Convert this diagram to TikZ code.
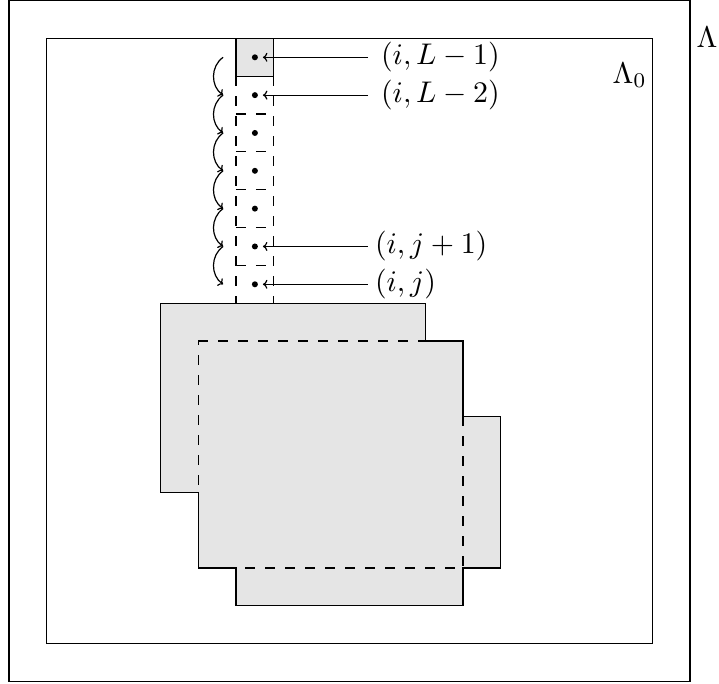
\documentclass[tikz,border=0pt]{standalone}
\usetikzlibrary{arrows.meta}
\newcommand\ztxt[1]{\scalebox{3}{$#1$}}
\begin{document}
\begin{tikzpicture}[x=37.83bp,y=37.83bp,line width=1.2bp,
  dsh/.style={dash pattern=on 10bp off 10bp},
  tip/.style={-{To[length=4.5bp,width=9bp]}},
  dot/.style={circle,fill,inner sep=0pt,minimum size=6bp,outer sep=0pt},
  lab/.style={inner sep=0pt,anchor=west},
  lam/.style={inner sep=0pt,anchor=base west}]
\useasboundingbox (-0.2379,-0.0397) rectangle (18.768,18.015);
% frames
\draw (0,0) rectangle (18,18);
\draw (1,1) rectangle (17,17);
% big region
\filldraw[fill=gray!20] (4,10) -- (11,10) -- (11,9) -- (12,9) -- (12,7) -- (13,7) -- (13,3) -- (12,3) -- (12,2) -- (6,2) -- (6,3) -- (5,3) -- (5,5) -- (4,5) -- cycle;
\draw[dsh] (5,9) -- (12,9) -- (12,3) -- (5,3) -- cycle;
% column
\filldraw[fill=gray!20] (6,16) rectangle (7,17);
\draw[dsh] (6,16) -- (6,10);
\draw[dsh] (7,16) -- (7,10);
\foreach \k in {11,...,15} \draw[dsh] (6,\k) -- (7,\k);
% dots
\node[dot] (d1) at (6.5,16.5) {};
\node[dot] (d2) at (6.5,15.5) {};
\node[dot] (d3) at (6.5,14.5) {};
\node[dot] (d4) at (6.5,13.5) {};
\node[dot] (d5) at (6.5,12.5) {};
\node[dot] (d6) at (6.5,11.5) {};
\node[dot] (d7) at (6.5,10.5) {};
% labels
\node[lab] (l1) at (9.82,16.5) {\ztxt{(i,L-1)}};
\node[lab] (l2) at (9.82,15.5) {\ztxt{(i,L-2)}};
\node[lab] (l6) at (9.66,11.5) {\ztxt{(i,j+1)}};
\node[lab] (l7) at (9.66,10.5) {\ztxt{(i,j)}};
\draw[tip,shorten <=12.5bp,shorten >=5bp] (l1.west) -- (d1);
\draw[tip,shorten <=12.5bp,shorten >=5bp] (l2.west) -- (d2);
\draw[tip,shorten <=6.5bp,shorten >=5bp] (l6.west) -- (d6);
\draw[tip,shorten <=6.5bp,shorten >=5bp] (l7.west) -- (d7);
% curved arrows
\foreach \i in {1,...,7} \coordinate (c\i) at (5.66,17.5-\i);
\foreach \i/\j in {1/2,2/3,3/4,4/5,5/6,6/7}
  \draw[tip] (c\i) to[bend right=55,looseness=1.05] (c\j);
% region labels
\node[lam] (lam0) at (15.94,15.82) {\ztxt{\Lambda_0}};
\node[lam] (lam) at (18.16,16.75) {\ztxt{\Lambda}};
\end{tikzpicture}
\end{document}
